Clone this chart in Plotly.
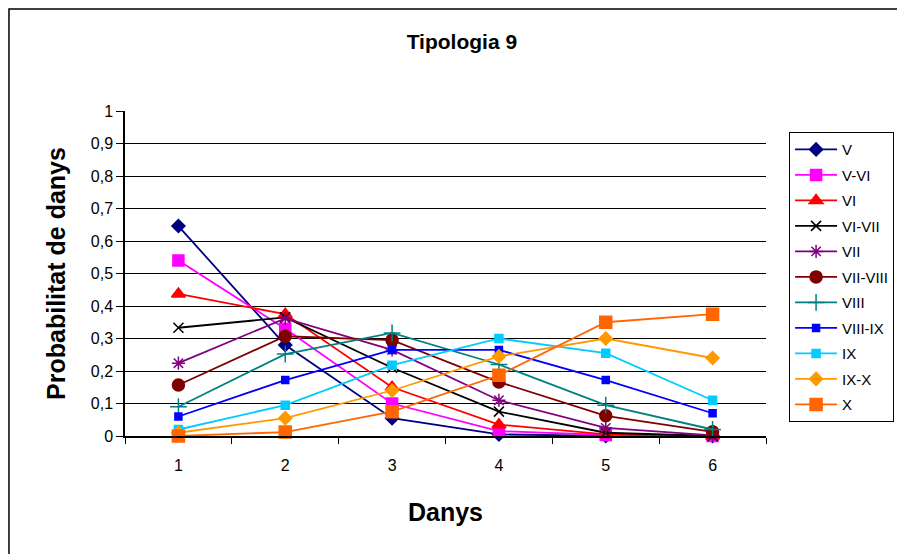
import plotly.graph_objects as go

# Dades: probabilitat de danys per a cada intensitat
danys = [1, 2, 3, 4, 5, 6]
V = [0.646, 0.28, 0.055, 0.005, 0.0, 0.0]
V_VI = [0.54, 0.33, 0.10, 0.015, 0.003, 0.0]
VI = [0.437, 0.375, 0.15, 0.035, 0.005, 0.0]
VI_VII = [0.333, 0.365, 0.21, 0.075, 0.01, 0.0]
VII = [0.224, 0.362, 0.265, 0.11, 0.025, 0.002]
VII_VIII = [0.157, 0.307, 0.295, 0.166, 0.062, 0.013]
VIII = [0.09, 0.252, 0.317, 0.22, 0.095, 0.02]
VIII_IX = [0.06, 0.172, 0.265, 0.265, 0.172, 0.07]
IX = [0.02, 0.095, 0.218, 0.30, 0.255, 0.11]
IX_X = [0.01, 0.055, 0.14, 0.245, 0.30, 0.24]
X = [0.0, 0.012, 0.075, 0.187, 0.35, 0.375]

series = [
    ('V', V, '#000080', 'diamond', 10),
    ('V-VI', V_VI, '#FF00FF', 'square', 11),
    ('VI', VI, '#FF0000', 'triangle-up', 12),
    ('VI-VII', VI_VII, '#000000', 'x-thin', 10),
    ('VII', VII, '#800080', 'asterisk', 11),
    ('VII-VIII', VII_VIII, '#800000', 'circle', 12),
    ('VIII', VIII, '#008080', 'cross-thin', 12),
    ('VIII-IX', VIII_IX, '#0000FF', 'square', 7),
    ('IX', IX, '#00CCFF', 'square', 8),
    ('IX-X', IX_X, '#FF9900', 'diamond', 10),
    ('X', X, '#FF6600', 'square', 12),
]

ytick_vals = [0, 0.1, 0.2, 0.3, 0.4, 0.5, 0.6, 0.7, 0.8, 0.9, 1]
ytick_text = ['0', '0,1', '0,2', '0,3', '0,4', '0,5', '0,6', '0,7', '0,8', '0,9', '1']

fig = go.Figure()
for name, vals, color, sym, size in series:
    fig.add_trace(go.Scatter(
        x=danys, y=vals, name=name, legendgroup=name, mode='lines+markers',
        line=dict(color=color, width=1.8),
        marker=dict(symbol=sym, size=size, color=color,
                    line=dict(color=color, width=1.5)),
        cliponaxis=False,
    ))

# la pagina deixa 8px de marge, per aixo la mida es 897x546
fig.update_layout(
    width=897, height=546,
    margin=dict(l=117, r=139, t=103, b=118, autoexpand=False),
    paper_bgcolor='white', plot_bgcolor='white',
    font=dict(family='Arial, Liberation Sans', size=16, color='black'),
    title=dict(text='<b>Tipologia 9</b>', x=0.506, xanchor='center',
               y=0.938, yanchor='middle', font=dict(size=21)),
    showlegend=True,
    legend=dict(x=1.036, xanchor='left', y=0.935, yanchor='top',
                bordercolor='black', borderwidth=1, bgcolor='white',
                font=dict(size=15), tracegroupgap=3, itemwidth=42),
    shapes=[dict(type='rect', xref='paper', yref='paper',
                 x0=-0.181, x1=1.25, y0=-0.6, y1=1.314,
                 line=dict(color='black', width=1.5))],
)

fig.update_xaxes(
    range=[0.5, 6.5], tickvals=danys, ticks='',
    showgrid=False, zeroline=False,
    showline=True, linecolor='black', linewidth=1.5,
    ticklabelstandoff=14,
    minor=dict(tickvals=[0.5, 1.5, 2.5, 3.5, 4.5, 5.5, 6.5],
               ticks='outside', ticklen=6, tickcolor='black', showgrid=False),
    title=dict(text='<b>Danys</b>', font=dict(size=25), standoff=31),
)
fig.update_yaxes(
    range=[0, 1], tickvals=ytick_vals, ticktext=ytick_text,
    ticks='outside', ticklen=7, tickcolor='black',
    showgrid=True, gridcolor='black', gridwidth=1,
    zeroline=False, showline=True, linecolor='black', linewidth=1.5,
    title=dict(text='<b>Probabilitat de danys</b>', font=dict(size=25), standoff=18),
)

fig.write_html('out.html')
